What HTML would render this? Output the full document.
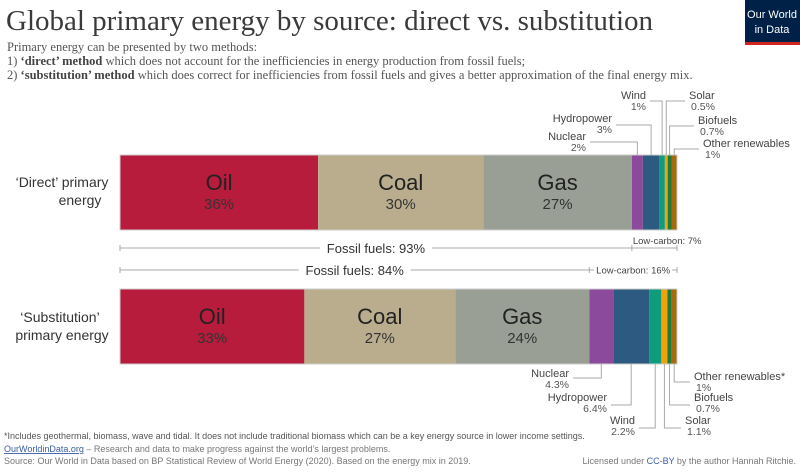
<!DOCTYPE html>
<html><head><meta charset="utf-8"><style>
body{margin:0;background:#fff;width:800px;height:469px;overflow:hidden}
svg text{font-family:"Liberation Sans",sans-serif}
</style></head><body>
<svg id="c" width="800" height="469">
<text x="6" y="30" font-size="29" fill="#3a3a3a" style="font-family:'Liberation Serif',serif">Global primary energy by source: direct vs. substitution</text>
<text x="7" y="51" font-size="12.5" fill="#555" style="font-family:'Liberation Serif',serif">Primary energy can be presented by two methods:</text>
<text x="7" y="65" font-size="12.5" fill="#555" style="font-family:'Liberation Serif',serif">1) <tspan font-weight="bold" fill="#444">‘direct’ method</tspan> which does not account for the inefficiencies in energy production from fossil fuels;</text>
<text x="7" y="79" font-size="12.5" fill="#555" style="font-family:'Liberation Serif',serif">2) <tspan font-weight="bold" fill="#444">‘substitution’ method</tspan> which does correct for inefficiencies from fossil fuels and gives a better approximation of the final energy mix.</text>
<g><rect x="745" y="0" width="55" height="45" fill="#002147"/><rect x="745" y="42" width="55" height="3" fill="#ce261e"/>
<text x="772" y="18" font-size="11" fill="#fff" text-anchor="middle">Our World</text><text x="772" y="33" font-size="11" fill="#fff" text-anchor="middle">in Data</text></g>
<text x="62" y="187" font-size="14" fill="#333" text-anchor="middle">‘Direct’ primary</text>
<text x="80" y="205" font-size="14" fill="#333" text-anchor="middle">energy</text>
<text x="60" y="322" font-size="14" fill="#333" text-anchor="middle">‘Substitution’</text>
<text x="62" y="340" font-size="14" fill="#333" text-anchor="middle">primary energy</text>
<g id="bars"></g>
<g id="ann" stroke="#aaa" fill="none" stroke-width="1"></g>
<g id="lbl"></g>
<text x="4" y="439" font-size="9" fill="#555">*Includes geothermal, biomass, wave and tidal. It does not include traditional biomass which can be a key energy source in lower  income settings.</text>
<text x="4" y="452" font-size="9" fill="#777"><tspan fill="#3b5da3" text-decoration="underline">OurWorldinData.org</tspan> – Research and data to make progress against the world’s largest problems.</text>
<text x="4" y="464" font-size="9" fill="#777">Source: Our World in Data based on BP Statistical Review of World Energy (2020). Based on the energy mix in 2019.</text>
<text x="796" y="464" font-size="9" fill="#777" text-anchor="end">Licensed under <tspan fill="#3b5da3">CC-BY</tspan> by the author Hannah Ritchie.</text>
</svg>
<script>
const sources=["Oil","Coal","Gas","Nuclear","Hydropower","Wind","Solar","Biofuels","Other renewables"];
const directValues=[36,30,27,2,3,1,0.5,0.7,1];
const substitutionValues=[33,27,24,4.3,6.4,2.2,1.1,0.7,1];
const directLabels=["36%","30%","27%","2%","3%","1%","0.5%","0.7%","1%"];
const substitutionLabels=["33%","27%","24%","4.3%","6.4%","2.2%","1.1%","0.7%","1%"];
const fossilTotals=[93,84];
const lowCarbonTotals=[7,16];
const colors=["#b71c3c","#b9ad8e","#9a9f95","#8b4a9b","#2d5a80","#0f9c7d","#f0a30a","#1e7b3a","#a8690b"];
const NS="http://www.w3.org/2000/svg";
const X0=120,W=557;
function mk(t,a,p,txt){const e=document.createElementNS(NS,t);for(const k in a)e.setAttribute(k,a[k]);if(txt!==undefined)e.textContent=txt;p.appendChild(e);return e;}
const bars=document.getElementById('bars'),ann=document.getElementById('ann'),lbl=document.getElementById('lbl');
function scaleX(vals){const s=vals.reduce((a,b)=>a+b,0);const xs=[];let acc=0;vals.forEach(v=>{xs.push([X0+acc/s*W,X0+(acc+v)/s*W]);acc+=v;});return xs;}
const rows=[{vals:directValues,labs:directLabels,y:155,name:'direct'},{vals:substitutionValues,labs:substitutionLabels,y:289,name:'substitution'}];
const segs=[];
rows.forEach((r,ri)=>{const xs=scaleX(r.vals);segs.push(xs);
 xs.forEach((p,i)=>{const e=mk('rect',{x:p[0],y:r.y,width:p[1]-p[0],height:75,fill:colors[i]},bars);
  
  
  if(i<3){const cx=(p[0]+p[1])/2;
   const t1=mk('text',{x:cx,y:r.y+35,'font-size':22,fill:'#222','text-anchor':'middle'},lbl,sources[i]);
   
   const t2=mk('text',{x:cx,y:r.y+54,'font-size':15,fill:'#333','text-anchor':'middle'},lbl,r.labs[i]);
   }
 });
 mk('rect',{x:X0,y:r.y,width:W,height:75,fill:'none',stroke:'#ccc'},bars);
});
// [x, label baseline, leader y, anchor]
const topPos=[null,null,null,[586,140,142,'end'],[612,122,125,'end'],[646,99,101,'end'],[688,99,101,'start'],[697,124,126,'start'],[702,147,149,'start']];
const botPos=[null,null,null,[569,377,378,'end'],[607,401,405,'end'],[635,424,428,'end'],[684,424,428,'start'],[693,401,405,'start'],[693,380,382,'start']];
[[topPos,0,155],[botPos,1,364]].forEach(([pos,ri,edge])=>{
 pos.forEach((p,i)=>{if(!p)return;const xs=segs[ri][i];const cx=(xs[0]+xs[1])/2;
  const a=p[3];
  const lx=a==='end'?p[0]+4:p[0]-3;
  mk('polyline',{points:`${lx},${p[2]} ${cx},${p[2]} ${cx},${edge}`},ann);
  const name=sources[i]+(ri===1&&i===8?'*':'');
  const tx=a==='end'?p[0]:p[0]+1;
  const t=mk('text',{x:tx,y:p[1],'font-size':11,fill:'#444','text-anchor':a},lbl,name);
  
  const vx=a==='end'?tx:tx+2;
  const v=mk('text',{x:vx,y:p[1]+11,'font-size':10.5,fill:'#555','text-anchor':a},lbl,(ri?substitutionLabels:directLabels)[i]);
  
 });
});
// fossil brackets
[[0,248],[1,270]].forEach(([ri,y])=>{const fe=segs[ri][2][1];const end=segs[ri][8][1];
 mk('line',{x1:X0,y1:y,x2:end,y2:y},ann);
 [X0,fe,end].forEach(x=>mk('line',{x1:x,y1:y-3,x2:x,y2:y+3},ann));
 const cx=(X0+fe)/2;
 mk('rect',{x:cx-56,y:y-9,width:112,height:17,fill:'#fff',stroke:'none'},lbl);
 const t=mk('text',{x:cx,y:y+5,'font-size':13,fill:'#333','text-anchor':'middle'},lbl,'Fossil fuels: '+fossilTotals[ri]+'%');
 
 let lt;
 if(ri===0){lt=mk('text',{x:fe+1,y:y-4,'font-size':9.5,fill:'#444'},lbl,'Low-carbon: '+lowCarbonTotals[ri]+'%');}
 else{const lc=(fe+end)/2;mk('rect',{x:lc-39,y:y-7,width:78,height:13,fill:'#fff',stroke:'none'},lbl);
  lt=mk('text',{x:lc,y:y+3.5,'font-size':9.5,fill:'#444','text-anchor':'middle'},lbl,'Low-carbon: '+lowCarbonTotals[ri]+'%');}
 
});
</script>
</body></html>
